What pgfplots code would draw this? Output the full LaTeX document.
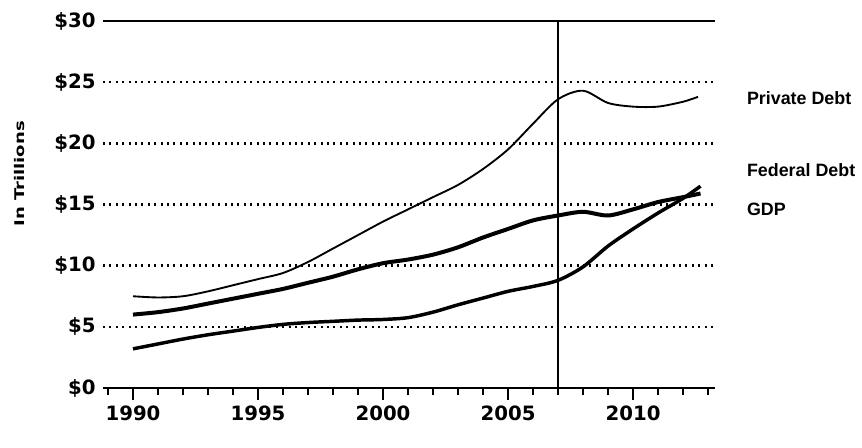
\documentclass[border=0pt]{standalone}
\usepackage{pgfplots}
\pgfplotsset{compat=1.18}
\usepackage{fontspec}
\setmainfont{Liberation Sans}
\newfontfamily\tickfont{DejaVu Sans}

\begin{document}
\begin{tikzpicture}[x=1pt,y=1pt]
  % page frame
  \path[use as bounding box] (0,0) rectangle (646.5,336);
  \begin{axis}[
    at={(77.25pt,45pt)}, anchor=south west,
    scale only axis, width=459pt, height=275.25pt,
    xmin=1988.8, xmax=2013.28, ymin=0, ymax=30,
    axis y line*=left, y axis line style={draw=none},
    axis x line*=bottom,
    x axis line style={line width=1.8pt},
    xtick={1990,1995,2000,2005,2010},
    minor xtick={1989,...,2013},
    xtick align=outside,
    major tick length=9pt, minor tick length=5.5pt,
    xtick style={black, line width=1.3pt},
    ytick style={draw=none},
    xticklabel style={/pgf/number format/1000 sep={}, font=\tickfont\bfseries\fontsize{14.8}{17}\selectfont, yshift=-1pt},
    ytick={0,5,...,30},
    yticklabels={\$0,\$5,\$10,\$15,\$20,\$25,\$30},
    yticklabel style={font=\tickfont\bfseries\fontsize{14.8}{17}\selectfont, xshift=-2pt},
    ymajorgrids,
    major grid style={black, line width=1.8pt, dash pattern=on 1.5pt off 3.3pt},
    clip=false,
    /pgf/number format/assume math mode=true,
  ]
    % top rule and the 2007 marker
    \draw[line width=1.8pt] (axis cs:1988.8,30) -- (axis cs:2013.28,30);
    \draw[line width=1.8pt] (axis cs:2007,0) -- (axis cs:2007,30);

    % Private Debt
    \addplot[black, line width=1.4pt, smooth, tension=0.5] coordinates {
      (1990,7.5)(1991,7.4)(1992,7.5)(1993,7.9)(1994,8.4)(1995,8.9)(1996,9.4)
      (1997,10.3)(1998,11.4)(1999,12.5)(2000,13.6)(2001,14.6)(2002,15.6)
      (2003,16.6)(2004,17.9)(2005,19.5)(2006,21.6)(2007,23.6)(2008,24.3)
      (2009,23.3)(2010,23.0)(2011,23.0)(2012,23.4)(2012.6,23.8)};
    % GDP
    \addplot[black, line width=3pt, smooth, tension=0.5] coordinates {
      (1990,6.0)(1991,6.2)(1992,6.5)(1993,6.9)(1994,7.3)(1995,7.7)(1996,8.1)
      (1997,8.6)(1998,9.1)(1999,9.7)(2000,10.2)(2001,10.5)(2002,10.9)
      (2003,11.5)(2004,12.3)(2005,13.0)(2006,13.7)(2007,14.1)(2008,14.4)
      (2009,14.1)(2010,14.6)(2011,15.2)(2012,15.6)(2012.7,15.9)};
    % Federal Debt
    \addplot[black, line width=2.6pt, smooth, tension=0.5] coordinates {
      (1990,3.2)(1991,3.6)(1992,4.0)(1993,4.35)(1994,4.65)(1995,4.95)(1996,5.2)
      (1997,5.35)(1998,5.45)(1999,5.55)(2000,5.6)(2001,5.75)(2002,6.2)
      (2003,6.8)(2004,7.35)(2005,7.9)(2006,8.3)(2007,8.8)(2008,9.9)
      (2009,11.6)(2010,13.0)(2011,14.3)(2012,15.5)(2012.7,16.5)};

    % series names on the right
    \node[anchor=west, inner sep=0pt, font=\fontsize{13.4}{15}\selectfont\bfseries] at (axis cs:2014.55,23.7) {Private Debt};
    \node[anchor=west, inner sep=0pt, font=\fontsize{13.4}{15}\selectfont\bfseries] at (axis cs:2014.55,17.8) {Federal Debt};
    \node[anchor=west, inner sep=0pt, font=\fontsize{13.4}{15}\selectfont\bfseries] at (axis cs:2014.55,14.6) {GDP};
    % unit label
    \node[rotate=90, xscale=1.35, font=\tickfont\fontsize{10}{12}\selectfont\bfseries] at (axis cs:1985.45,17.5) {In Trillions};
  \end{axis}
\end{tikzpicture}
\end{document}
